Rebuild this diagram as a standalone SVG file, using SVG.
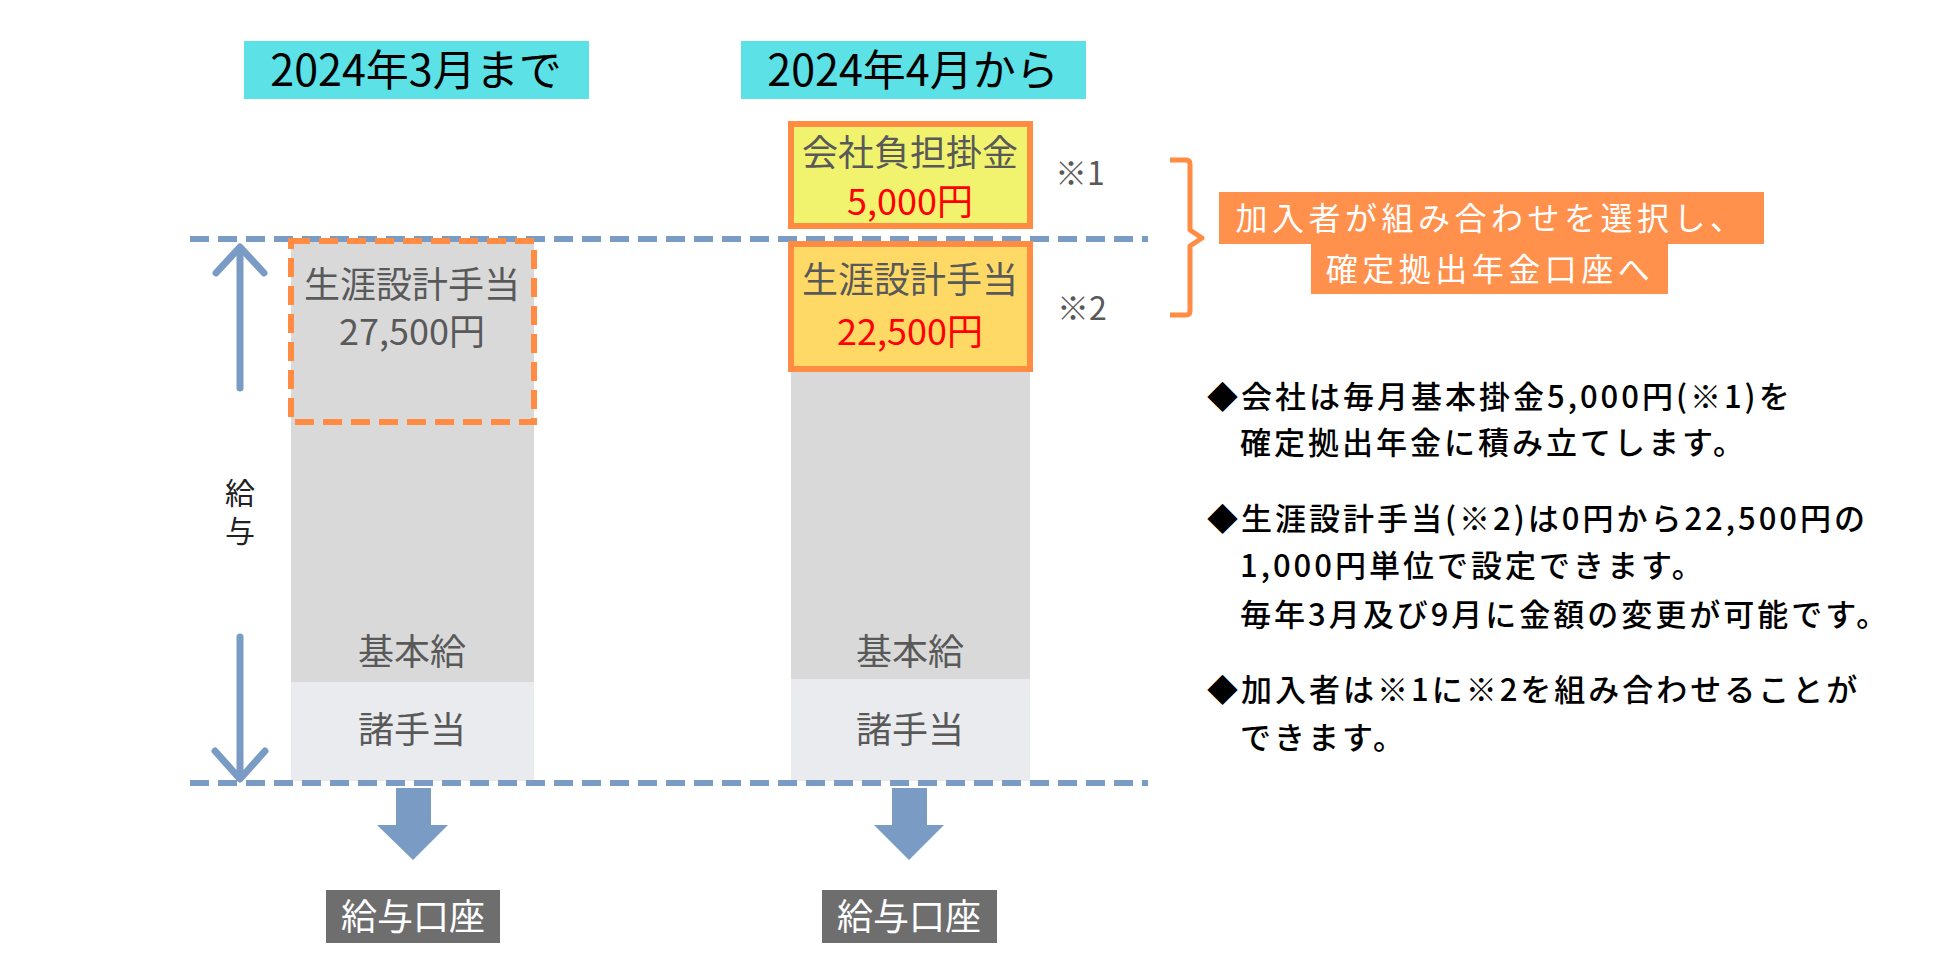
<svg xmlns="http://www.w3.org/2000/svg" width="1950" height="975" viewBox="0 0 1950 975">
<style>
text{font-family:"Noto Sans CJK JP","Noto Sans",sans-serif;}
.hdr{fill:#5CE1E6;}
.hdrt{font-size:43px;fill:#000;text-anchor:middle;}
.bt{font-size:36px;fill:#595959;text-anchor:middle;}
.red{font-size:36px;fill:#FF0000;text-anchor:middle;}
.dk{fill:#D9D9D9;}
.lt{fill:#EAEBEE;}
.ob{stroke:#FF8C42;stroke-width:6;}
.bl{stroke:#7A9CC4;stroke-width:6;stroke-dasharray:19 9;fill:none;}
.ar{stroke:#7A9CC4;stroke-width:7;stroke-linecap:round;stroke-linejoin:round;fill:none;}
.ba{fill:#7A9CC4;}
.gb{fill:#6E6E6E;}
.gbt{font-size:36px;fill:#fff;text-anchor:middle;}
.note{font-size:32px;fill:#595959;}
.ol{fill:#FF914D;}
.olt{font-size:32px;fill:#fff;text-anchor:middle;letter-spacing:4.5px;}
.rt{font-size:31px;fill:#000;font-weight:500;letter-spacing:3px;}
.vt{font-size:30px;fill:#222;writing-mode:vertical-rl;letter-spacing:8px;}
</style>
<g id="header-before">
<rect class="hdr" x="244" y="41" width="345" height="58"/>
<text class="hdrt" x="416" y="86">2024年3月まで</text>
</g>
<g id="header-after">
<rect class="hdr" x="741" y="41" width="345" height="58"/>
<text class="hdrt" x="913" y="86">2024年4月から</text>
</g>
<g id="left-column">
<rect class="dk" x="291" y="241" width="243" height="441"/>
<rect class="lt" x="291" y="682" width="243" height="99"/>
<text class="bt" x="412" y="665">基本給</text>
<text class="bt" x="412" y="743">諸手当</text>
</g>
<g id="right-column">
<rect class="dk" x="791" y="370" width="239" height="309"/>
<rect class="lt" x="791" y="679" width="239" height="102"/>
<text class="bt" x="910" y="665">基本給</text>
<text class="bt" x="910" y="743">諸手当</text>
</g>
<g id="connectors">
<line class="bl" x1="190" y1="239" x2="1148" y2="239"/>
<line class="bl" x1="190" y1="783" x2="1148" y2="783"/>
<line class="ar" x1="240" y1="248" x2="240" y2="388"/>
<polyline class="ar" points="216,273 240,247 264,273"/>
<line class="ar" x1="240" y1="637" x2="240" y2="778"/>
<polyline class="ar" points="215,751 240,779 265,751"/>
<polygon class="ba" points="396,788 431,788 431,825 448,825 413,860 377,825 396,825"/>
<polygon class="ba" points="892,788 927,788 927,825 944,825 909,860 874,825 892,825"/>
<path d="M1170,160 H1186 Q1190,160 1190,164 V230 L1202,238 L1190,246 V311 Q1190,315 1186,315 H1170" fill="none" stroke="#FF8C42" stroke-width="5" stroke-linejoin="round"/>
</g>
<g id="left-allowance">
<rect x="291" y="241" width="243" height="181" fill="none" class="ob" stroke-dasharray="19 9"/>
<text class="bt" x="412" y="298">生涯設計手当</text>
<text class="bt" x="412" y="345">27,500円</text>
</g>
<g id="company-contribution">
<rect x="791" y="124" width="239" height="102" fill="#F1F36E" class="ob"/>
<text class="bt" x="910" y="166">会社負担掛金</text>
<text class="red" x="910" y="215">5,000円</text>
</g>
<text class="note" x="1055" y="185">※1</text>
<g id="right-allowance">
<rect x="791" y="244" width="239" height="125" fill="#FFD966" class="ob"/>
<text class="bt" x="910" y="293">生涯設計手当</text>
<text class="red" x="910" y="345">22,500円</text>
</g>
<text class="note" x="1057" y="320">※2</text>
<g id="salary-label">
<text class="vt" x="240" y="478">給与</text>
</g>
<g id="account-left">
<rect class="gb" x="326" y="890" width="174" height="53"/>
<text class="gbt" x="413" y="930">給与口座</text>
</g>
<g id="account-right">
<rect class="gb" x="822" y="890" width="175" height="53"/>
<text class="gbt" x="909" y="930">給与口座</text>
</g>
<g id="dc-label">
<rect class="ol" x="1219" y="192" width="545" height="52"/>
<rect class="ol" x="1311" y="243" width="357" height="51"/>
<text class="olt" x="1491" y="230">加入者が組み合わせを選択し、</text>
<text class="olt" x="1490" y="281">確定拠出年金口座へ</text>
</g>
<g id="notes">
<text class="rt" x="1207" y="408">◆会社は毎月基本掛金5,000円(※1)を</text>
<text class="rt" x="1240" y="454">確定拠出年金に積み立てします。</text>
<text class="rt" x="1207" y="530">◆生涯設計手当(※2)は0円から22,500円の</text>
<text class="rt" x="1240" y="577">1,000円単位で設定できます。</text>
<text class="rt" x="1240" y="626">毎年3月及び9月に金額の変更が可能です。</text>
<text class="rt" x="1207" y="701">◆加入者は※1に※2を組み合わせることが</text>
<text class="rt" x="1240" y="749">できます。</text>
</g>
</svg>
